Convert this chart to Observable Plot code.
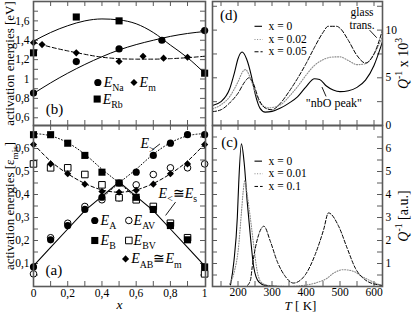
<!DOCTYPE html>
<html><head><meta charset="utf-8">
<script src="https://cdn.jsdelivr.net/npm/d3@7"></script>
<script src="https://cdn.jsdelivr.net/npm/@observablehq/plot@0.6"></script>
<style>
html,body{margin:0;padding:0;background:#fff;}
#fig{position:relative;width:415px;height:315px;overflow:hidden;}
#fig svg{position:absolute;left:0;top:0;}
</style></head><body><div id="fig"></div>
<script>
// ---------- Panel (b): activation energies [eV] vs x ----------
const bXNa = [0, 0.25, 0.5, 0.75, 1];
const bENa = [0.855, 1.18, 1.31, 1.40, 1.50];
const bXRb = [0, 0.25, 0.5, 1];
const bERb = [1.27, 1.64, 1.60, 1.06];
const bXm = [0, 0.05, 0.25, 0.5, 0.64, 0.76, 0.9];
const bEm = [1.375, 1.355, 1.27, 1.18, 1.235, 1.215, 1.225];
const bFitX = [0, 0.1, 0.2, 0.3, 0.4, 0.5, 0.6, 0.7, 0.8, 0.9, 1];
const bFitNa = [0.85, 0.96, 1.06, 1.15, 1.23, 1.30, 1.355, 1.40, 1.44, 1.47, 1.49];
const bFitRb = [1.39, 1.48, 1.55, 1.60, 1.62, 1.61, 1.57, 1.48, 1.35, 1.22, 1.06];
const bFitM  = [1.38, 1.33, 1.29, 1.255, 1.225, 1.21, 1.205, 1.205, 1.21, 1.22, 1.235];
const bYTicks = [0.6, 0.8, 1, 1.2, 1.4, 1.6];

// ---------- Panel (a): activation energies [eps_mis] vs x ----------
const aX   = [0, 0.1, 0.2, 0.3, 0.4, 0.5, 0.6, 0.7, 0.8, 0.9, 1];
const aEA  = [0.085, 0.203, 0.265, 0.335, 0.388, 0.45, 0.497, 0.57, 0.623, 0.66, 0.66];
const aEB  = [0.66, 0.66, 0.623, 0.57, 0.497, 0.45, 0.388, 0.335, 0.265, 0.203, 0.085];
const aEAV = [0.055, 0.212, 0.275, 0.348, 0.377, 0.386, 0.442, 0.487, 0.516, 0.516, 0.533];
const aEBV = [0.533, 0.516, 0.516, 0.487, 0.442, 0.386, 0.377, 0.348, 0.275, 0.212, 0.055];
const aEAB = [0.617, 0.533, 0.49, 0.445, 0.413, 0.41, 0.418, 0.445, 0.49, 0.533, 0.617];
const aFitAB = [0.62, 0.545, 0.49, 0.448, 0.42, 0.41, 0.42, 0.448, 0.49, 0.545, 0.62];
const aLow   = [0.09, 0.17, 0.25, 0.33, 0.392, 0.455, 0.392, 0.33, 0.25, 0.17, 0.09];
const aHighBX = [0, 0.1, 0.2, 0.3, 0.4, 0.5, 0.6];
const aHighB  = [0.665, 0.655, 0.625, 0.575, 0.51, 0.45, 0.385];
const aHighAX = [0.4, 0.5, 0.6, 0.7, 0.8, 0.9, 1];
const aHighA  = [0.385, 0.45, 0.51, 0.575, 0.625, 0.655, 0.665];
const aYTicks = [0.1, 0.2, 0.3, 0.4, 0.5, 0.6];
const aXTicks = [0, 0.2, 0.4, 0.6, 0.8, 1];

// ---------- Panel (d): Q^-1 x 10^3 vs T ----------
const dT0 = [125, 150, 175, 190, 200, 212, 225, 240, 250, 265, 280, 300, 325, 350, 375, 400, 425, 440, 460, 480, 500, 525, 550, 575, 600, 625];
const dQ0 = [2.1, 2.5, 3.8, 5.6, 7.0, 7.7, 7.0, 5.1, 3.4, 1.8, 1.4, 1.48, 1.83, 2.35, 3.0, 4.06, 4.9, 4.83, 4.14, 3.72, 3.55, 3.65, 4.0, 4.76, 6.3, 8.8];
const dT1 = [125, 150, 175, 200, 215, 222, 235, 250, 265, 290, 325, 350, 375, 400, 425, 450, 475, 500, 525, 550, 575, 600, 625];
const dQ1 = [1.75, 2.17, 3.0, 4.58, 5.7, 5.86, 5.1, 3.55, 2.35, 1.85, 2.17, 3.03, 4.07, 5.27, 6.3, 6.9, 7.17, 7.2, 6.8, 6.38, 6.48, 7.5, 9.3];
const dT2 = [125, 150, 175, 200, 220, 232, 245, 260, 280, 300, 325, 350, 375, 400, 425, 450, 465, 490, 500, 525, 550, 575, 600, 625];
const dQ2 = [1.45, 1.65, 2.35, 3.38, 4.58, 5.0, 4.41, 2.86, 1.83, 1.65, 2.35, 3.55, 4.93, 6.48, 8.2, 9.75, 10.4, 10.4, 10.2, 8.9, 7.34, 6.55, 7.5, 10.0];
const dLabels = ["x = 0", "x = 0.02", "x = 0.05"];
const dYTicks = [0, 5, 10];

// ---------- Panel (c): Q^-1 [a.u.] vs T ----------
const cT0 = [178, 188, 198, 202, 210, 218, 227, 237, 246, 261, 280, 320];
const cQ0 = [0.07, 1.1, 3.0, 4.45, 6.2, 5.4, 3.7, 2.1, 0.87, 0.2, 0.05, 0.0];
const cT1 = [175, 190, 200, 210, 215, 220, 228, 237, 247, 256, 265, 280, 300, 350, 383, 432, 462, 481, 510, 540, 564, 594, 623];
const cQ1 = [0.1, 0.7, 1.5, 3.2, 4.1, 4.6, 3.9, 2.9, 1.7, 0.7, 0.25, 0.08, 0.03, 0.0, 0.03, 0.17, 0.36, 0.58, 0.73, 0.66, 0.44, 0.22, 0.03];
const cT2 = [228, 237, 242, 251, 261, 276, 295, 315, 339, 363, 398, 427, 452, 466, 496, 521, 545, 574, 613, 625];
const cQ2 = [0.05, 0.3, 0.87, 1.67, 2.26, 2.62, 1.97, 1.1, 0.44, 0.15, 0.51, 1.39, 2.48, 3.2, 2.62, 1.67, 0.8, 0.29, 0.07, 0.05];
const cLabels = ["x = 0", "x = 0.01", "x = 0.1"];
const cYTicks = [1, 2, 3, 4, 5, 6];
const cXTicks = [200, 300, 400, 500, 600];

// ---------- helpers ----------
const W = 415, H = 315;
const FONT = '"Liberation Serif", "DejaVu Serif", serif';
const FRAME = "#5a5a5a";
const GRAY = "#8a8a8a";
const comma = d => String(d).replace(".", ",");
const pts = (xs, ys) => xs.map((x, i) => ({x, y: ys[i]}));
const step = (a, b, s) => d3.range(Math.round((b - a) / s) + 1).map(i => +(a + i * s).toFixed(4));
const common = {width: W, height: H, style: {background: "transparent", fontFamily: FONT, fontSize: "11.5px", color: "black", overflow: "visible"}};

function inTicks(xt, yt, fw, fh, len = 5) {
  const o = {stroke: FRAME, strokeWidth: 1};
  return [
    Plot.tickY(yt, {y: d => d, insetRight: fw - len, ...o}),
    Plot.tickY(yt, {y: d => d, insetLeft: fw - len, ...o}),
    Plot.tickX(xt, {x: d => d, insetBottom: fh - len, ...o}),
    Plot.tickX(xt, {x: d => d, insetTop: fh - len, ...o})
  ];
}
const note = (x, y, text, o = {}) => Plot.text([text], {x: [x], y: [y], textAnchor: "start", fontSize: 14, ...o});
const mark1 = (x, y, o) => Plot.dot([0], {x: [x], y: [y], ...o});
const seg = (x1, y1, x2, y2, o = {}) => Plot.link([0], {x1: [x1], y1: [y1], x2: [x2], y2: [y2], stroke: "black", strokeWidth: 0.9, ...o});
const title = (text, o) => Plot.text([text], {rotate: -90, textAnchor: "middle", fontSize: 13, ...o});

function rich(svg) {
  const NS = "http://www.w3.org/2000/svg";
  svg.querySelectorAll("text").forEach(t => {
    const s = t.textContent;
    if (!/[*_^]/.test(s)) return;
    const fsEl = t.closest("[font-size]");
    const fs = fsEl ? parseFloat(fsEl.getAttribute("font-size")) : 12;
    while (t.firstChild) t.removeChild(t.firstChild);
    const re = /\*([^*]+)\*|_\{([^}]*)\}|\^\{([^}]*)\}|([^*_^]+)/g;
    let m, shift = 0;
    while ((m = re.exec(s))) {
      const ts = document.createElementNS(NS, "tspan");
      let target = 0, txt;
      if (m[1] !== undefined) { txt = m[1]; ts.setAttribute("font-style", "italic"); }
      else if (m[2] !== undefined) { txt = m[2]; target = 0.3 * fs; ts.setAttribute("font-size", 0.7 * fs); }
      else if (m[3] !== undefined) { txt = m[3]; target = -0.42 * fs; ts.setAttribute("font-size", 0.7 * fs); }
      else txt = m[4];
      if (target !== shift) { ts.setAttribute("dy", target - shift); shift = target; }
      ts.textContent = txt;
      t.appendChild(ts);
    }
  });
  return svg;
}

const fig = document.getElementById("fig");
const filled = {fill: "black", stroke: "none"};
const open = {fill: "white", stroke: "black", strokeWidth: 1};

// ---------- (b) ----------
fig.appendChild(rich(Plot.plot({
  ...common,
  marginLeft: 33, marginRight: W - 205, marginTop: 1, marginBottom: H - 125,
  x: {domain: [0, 1.005], axis: null},
  y: {domain: [0.52, 1.8], axis: null},
  marks: [
    ...inTicks(step(0.1, 0.9, 0.1), step(0.6, 1.7, 0.1), 172, 124),
    Plot.line(pts(bFitX, bFitNa), {x: "x", y: "y", curve: "monotone-x", stroke: "black", strokeWidth: 1}),
    Plot.line(pts(bFitX, bFitRb), {x: "x", y: "y", curve: "monotone-x", stroke: "black", strokeWidth: 1}),
    Plot.line(pts(bFitX, bFitM), {x: "x", y: "y", curve: "monotone-x", stroke: "black", strokeWidth: 1, strokeDasharray: "4,2.5"}),
    Plot.dot(pts(bXNa, bENa), {x: "x", y: "y", symbol: "circle", r: 3.6, ...filled}),
    Plot.dot(pts(bXRb, bERb), {x: "x", y: "y", symbol: "square", r: 4, ...filled}),
    Plot.dot(pts(bXm, bEm), {x: "x", y: "y", symbol: "diamond2", r: 3.2, ...filled}),
    mark1(0.376, 0.964, {symbol: "circle", r: 3.6, ...filled}),
    note(0.41, 0.964, "*E*_{Na}"),
    mark1(0.587, 0.964, {symbol: "diamond2", r: 3.2, ...filled}),
    note(0.62, 0.964, "*E*_{m}"),
    mark1(0.372, 0.793, {symbol: "square", r: 4, ...filled}),
    note(0.404, 0.793, "*E*_{Rb}"),
    note(0.123, 0.69, "(b)", {textAnchor: "middle", fontSize: 15}),
    Plot.axisY(bYTicks, {anchor: "left", tickSize: 0, tickPadding: 4, tickFormat: comma, label: null}),
    title("activation energies [eV]", {frameAnchor: "left", dx: -24}),
    Plot.frame({stroke: FRAME, strokeWidth: 1.6})
  ]
})));

// ---------- (a) ----------
fig.appendChild(rich(Plot.plot({
  ...common,
  marginLeft: 33, marginRight: W - 205, marginTop: 125, marginBottom: H - 286,
  x: {domain: [0, 1.005], axis: null},
  y: {domain: [0, 0.7], axis: null},
  marks: [
    ...inTicks(step(0.1, 0.9, 0.1), step(0.05, 0.65, 0.05), 172, 161),
    Plot.line(pts(aHighBX, aHighB), {x: "x", y: "y", curve: "monotone-x", stroke: "black", strokeWidth: 1, strokeDasharray: "1,2.2"}),
    Plot.line(pts(aHighAX, aHighA), {x: "x", y: "y", curve: "monotone-x", stroke: "black", strokeWidth: 1, strokeDasharray: "1,2.2"}),
    Plot.line(pts(aX, aFitAB), {x: "x", y: "y", curve: "monotone-x", stroke: "black", strokeWidth: 1, strokeDasharray: "3.5,2.5"}),
    Plot.line(pts(aX, aLow), {x: "x", y: "y", stroke: "black", strokeWidth: 1.1}),
    Plot.dot(pts(aX, aEAV), {x: "x", y: "y", symbol: "circle", r: 3.3, ...open}),
    Plot.dot(pts(aX, aEBV), {x: "x", y: "y", symbol: "square", r: 3.7, ...open}),
    Plot.dot(pts(aX, aEA), {x: "x", y: "y", symbol: "circle", r: 3.6, ...filled}),
    Plot.dot(pts(aX, aEB), {x: "x", y: "y", symbol: "square", r: 4, ...filled}),
    Plot.dot(pts(aX, aEAB), {x: "x", y: "y", symbol: "diamond2", r: 3.2, ...filled}),
    note(0.625, 0.62, "*E*_{>}"),
    seg(0.694, 0.594, 0.739, 0.62),
    note(0.731, 0.404, "*E*_{<}≅*E*_{s}"),
    seg(0.83, 0.367, 0.772, 0.309),
    mark1(0.358, 0.287, {symbol: "circle", r: 3.6, ...filled}),
    note(0.392, 0.287, "*E*_{A}"),
    mark1(0.557, 0.287, {symbol: "circle", r: 3.3, ...open}),
    note(0.585, 0.287, "*E*_{AV}"),
    mark1(0.358, 0.2, {symbol: "square", r: 4, ...filled}),
    note(0.392, 0.2, "*E*_{B}"),
    mark1(0.557, 0.2, {symbol: "square", r: 3.7, ...open}),
    note(0.585, 0.2, "*E*_{BV}"),
    mark1(0.538, 0.12, {symbol: "diamond2", r: 3.2, ...filled}),
    note(0.571, 0.12, "*E*_{AB}≅*E*_{m}"),
    note(0.119, 0.07, "(a)", {textAnchor: "middle", fontSize: 15}),
    Plot.axisY(aYTicks, {anchor: "left", tickSize: 0, tickPadding: 4, tickFormat: comma, label: null}),
    Plot.axisX(aXTicks, {anchor: "bottom", tickSize: 0, tickPadding: 2, tickFormat: comma, label: null}),
    title("activation energies [ε_{mis}]", {frameAnchor: "left", dx: -24}),
    Plot.text(["*x*"], {frameAnchor: "bottom", dy: 22.5, fontSize: 13.5}),
    Plot.frame({stroke: FRAME, strokeWidth: 1.6})
  ]
})));

// ---------- (d) ----------
fig.appendChild(rich(Plot.plot({
  ...common,
  marginLeft: 212, marginRight: W - 382, marginTop: 1, marginBottom: H - 125,
  x: {domain: [125, 625], axis: null},
  y: {domain: [0, 13], axis: null},
  marks: [
    ...inTicks(step(150, 600, 50), step(2.5, 12.5, 2.5), 170, 124),
    Plot.line(pts(dT0, dQ0), {x: "x", y: "y", curve: "monotone-x", stroke: "black", strokeWidth: 1.1, clip: true}),
    Plot.line(pts(dT1, dQ1), {x: "x", y: "y", curve: "monotone-x", stroke: GRAY, strokeWidth: 1.1, strokeDasharray: "1,1.6", clip: true}),
    Plot.line(pts(dT2, dQ2), {x: "x", y: "y", curve: "monotone-x", stroke: "black", strokeWidth: 1, strokeDasharray: "4,2", clip: true}),
    Plot.ruleY([10.4], {x1: 250, x2: 272, stroke: "black", strokeWidth: 1.1}),
    Plot.ruleY([9.02], {x1: 250, x2: 274, stroke: GRAY, strokeWidth: 1.1, strokeDasharray: "1,1.6"}),
    Plot.ruleY([7.73], {x1: 250, x2: 274, stroke: "black", strokeWidth: 1, strokeDasharray: "4,2"}),
    Plot.text(dLabels, {x: 290, y: [10.4, 9.02, 7.73], textAnchor: "start", fontSize: 11.5}),
    note(173, 11.56, "(d)", {textAnchor: "middle", fontSize: 15}),
    note(565, 11.85, "glass", {textAnchor: "middle", fontSize: 11.5}),
    note(565, 10.55, "trans.", {textAnchor: "middle", fontSize: 11.5}),
    seg(587, 10.0, 608, 9.2),
    note(482, 2.36, "\"nbO peak\"", {textAnchor: "middle", fontSize: 12}),
    seg(447, 4.03, 459, 3.05),
    Plot.axisY(dYTicks, {anchor: "right", tickSize: 0, tickPadding: 3, label: null}),
    title("*Q*^{-1} x 10^{3}", {frameAnchor: "right", dx: 21, fontSize: 14}),
    Plot.frame({stroke: FRAME, strokeWidth: 1.6})
  ]
})));

// ---------- (c) ----------
fig.appendChild(rich(Plot.plot({
  ...common,
  marginLeft: 212, marginRight: W - 382, marginTop: 125, marginBottom: H - 286,
  x: {domain: [125, 625], axis: null},
  y: {domain: [0, 7], axis: null},
  marks: [
    ...inTicks(step(150, 600, 50), step(0.5, 6.5, 0.5), 170, 161),
    Plot.line(pts(cT0, cQ0), {x: "x", y: "y", curve: "monotone-x", stroke: "black", strokeWidth: 1.1, clip: true}),
    Plot.line(pts(cT1, cQ1), {x: "x", y: "y", curve: "monotone-x", stroke: GRAY, strokeWidth: 1.1, strokeDasharray: "1,1.6", clip: true}),
    Plot.line(pts(cT2, cQ2), {x: "x", y: "y", curve: "monotone-x", stroke: "black", strokeWidth: 1, strokeDasharray: "3.5,2", clip: true}),
    Plot.ruleY([5.45], {x1: 250, x2: 272, stroke: "black", strokeWidth: 1.1}),
    Plot.ruleY([4.9], {x1: 250, x2: 274, stroke: GRAY, strokeWidth: 1.1, strokeDasharray: "1,1.6"}),
    Plot.ruleY([4.35], {x1: 250, x2: 274, stroke: "black", strokeWidth: 1, strokeDasharray: "3.5,2"}),
    Plot.text(cLabels, {x: 290, y: [5.45, 4.9, 4.35], textAnchor: "start", fontSize: 11.5}),
    note(175, 6.27, "(c)", {textAnchor: "middle", fontSize: 15}),
    Plot.axisY(cYTicks, {anchor: "right", tickSize: 0, tickPadding: 3, label: null}),
    Plot.axisX(cXTicks, {anchor: "bottom", tickSize: 0, tickPadding: 1.5, label: null}),
    title("*Q*^{-1} [a.u.]", {frameAnchor: "right", dx: 21, dy: 10, fontSize: 14}),
    Plot.text(["*T* [ K]"], {frameAnchor: "bottom", dx: 3, dy: 23, fontSize: 13}),
    Plot.frame({stroke: FRAME, strokeWidth: 1.6})
  ]
})));
</script></body></html>
